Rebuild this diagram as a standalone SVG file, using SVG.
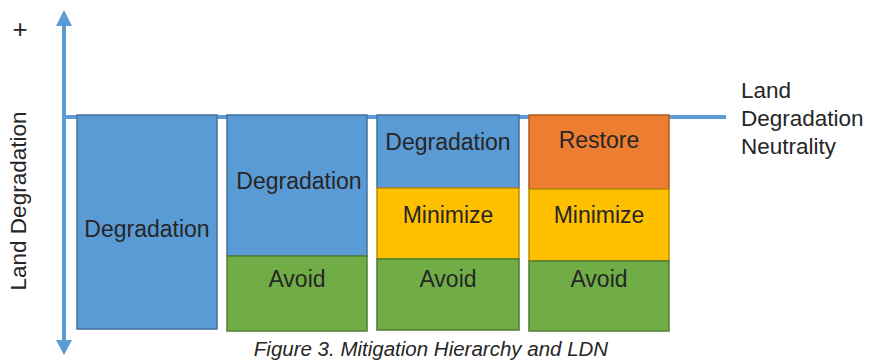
<svg xmlns="http://www.w3.org/2000/svg" width="870" height="361" viewBox="0 0 870 361">
  <defs>
    <style>
      .lbl { font-family: "Liberation Sans", Arial, sans-serif; font-size: 23px; fill: #262626; text-anchor: middle; }
      .side { font-family: "Liberation Sans", Arial, sans-serif; font-size: 22.5px; fill: #262626; }
      .axis { stroke: #5b9bd5; stroke-width: 4; fill: none; }
      .deg { fill: #5b9bd5; stroke: #41719c; stroke-width: 1.5; }
      .avo { fill: #70ad47; stroke: #507e32; stroke-width: 1.5; }
      .min { fill: #ffc000; stroke: #bc8c00; stroke-width: 1.5; }
      .res { fill: #ed7d31; stroke: #ae5a21; stroke-width: 1.5; }
    </style>
  </defs>
  <rect width="870" height="361" fill="#ffffff"/>

  <!-- axes -->
  <g id="connectors">
    <line class="axis" x1="64" y1="22" x2="64" y2="343"/>
    <polygon points="64,10 56,26 72,26" fill="#5b9bd5"/>
    <polygon points="64,355 56,340 72,340" fill="#5b9bd5"/>
    <line class="axis" x1="64" y1="117" x2="726" y2="117"/>
  </g>

  <text x="20" y="38" font-family="Liberation Sans, Arial, sans-serif" font-size="26" fill="#262626" text-anchor="middle">+</text>
  <text class="side" transform="translate(26,201) rotate(-90)" text-anchor="middle">Land Degradation</text>

  <g id="col1">
    <rect class="deg" x="77" y="115" width="140" height="214"/>
    <text class="lbl" x="147" y="237">Degradation</text>
  </g>

  <g id="col2">
    <rect class="deg" x="227" y="115" width="140" height="141"/>
    <rect class="avo" x="227" y="256" width="140" height="75"/>
    <text class="lbl" x="299" y="189">Degradation</text>
    <text class="lbl" x="297" y="287">Avoid</text>
  </g>

  <g id="col3">
    <rect class="deg" x="377" y="115" width="142" height="73"/>
    <rect class="min" x="377" y="188" width="142" height="71"/>
    <rect class="avo" x="377" y="259" width="142" height="71"/>
    <text class="lbl" x="448" y="150">Degradation</text>
    <text class="lbl" x="448" y="223">Minimize</text>
    <text class="lbl" x="448" y="287">Avoid</text>
  </g>

  <g id="col4">
    <rect class="res" x="529" y="115" width="140" height="74"/>
    <rect class="min" x="529" y="189" width="140" height="72"/>
    <rect class="avo" x="529" y="261" width="140" height="70"/>
    <text class="lbl" x="599" y="148">Restore</text>
    <text class="lbl" x="599" y="223">Minimize</text>
    <text class="lbl" x="599" y="287">Avoid</text>
  </g>

  <g id="ldn-label">
    <text class="side" x="741" y="98">Land</text>
    <text class="side" x="741" y="126">Degradation</text>
    <text class="side" x="741" y="154">Neutrality</text>
  </g>

  <text x="431" y="356" font-family="Liberation Sans, Arial, sans-serif" font-size="20.5" font-style="italic" fill="#262626" text-anchor="middle">Figure 3. Mitigation Hierarchy and LDN</text>
</svg>
